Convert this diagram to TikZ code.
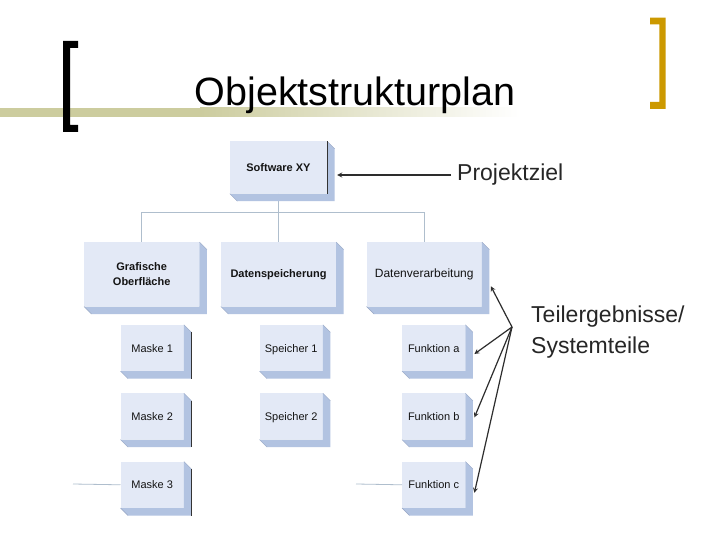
\documentclass[tikz,border=0pt]{standalone}
\usepackage{fontspec}
\setmainfont{Liberation Sans}
\usepackage{xcolor}
\usetikzlibrary{positioning}
\definecolor{boxfront}{RGB}{227,233,246}
\definecolor{boxside}{RGB}{178,195,225}
\definecolor{boxbevel}{RGB}{150,165,195}
\definecolor{boxtext}{RGB}{20,20,20}
\definecolor{treeline}{RGB}{175,190,205}
\definecolor{arrowc}{RGB}{45,45,45}
\definecolor{barc}{RGB}{204,204,158}
\definecolor{gold}{RGB}{204,153,0}

\begin{document}
\begin{tikzpicture}[
  x=1pt, y=-1pt,
  node distance=22pt,
  wbs/.style={
    rectangle, fill=boxfront, inner sep=0pt,
    align=center, text=boxtext,
    font=\fontsize{11}{13.5}\selectfont
  },
  topbox/.style={wbs, minimum width=97pt, minimum height=52pt,
    font=\bfseries\fontsize{11}{13.5}\selectfont},
  subbox/.style={wbs, minimum width=115pt, minimum height=64pt,
    font=\bfseries\fontsize{11}{15.5}\selectfont},
  leaf/.style={wbs, minimum width=63pt, minimum height=46pt,
    text height=8pt, text depth=0pt},
  side/.style={fill=boxside},
  bevel/.style={line width=0.4pt, color=boxbevel},
  rim/.style={line width=0.8pt, color=black!80},
  tree/.style={line width=0.8pt, color=treeline},
  arr/.style={->,>=stealth,line width=1.2pt,color=arrowc},
  note/.style={font=\fontsize{23}{31}\selectfont, text=black!85, inner sep=0pt}
]
\fill[white] (0,0) rectangle (720,540);
\useasboundingbox (0,0) rectangle (720,540);

% title bar and brackets
\fill[barc] (0,108) rectangle (200,117);
\shade[left color=barc, right color=white] (200,108) rectangle (520,117);
\node[font=\fontsize{39.5}{47}\selectfont, anchor=base] (title) at (355,106) {Objektstrukturplan};
\fill[black] (63,41) -- (78,41) -- (78,48) -- (70,48) -- (70,125) -- (78,125)
  -- (78,132) -- (63,132) -- cycle;
\fill[gold] (650,17.7) -- (665.7,17.7) -- (665.7,109) -- (650,109) -- (650,102)
  -- (659.3,102) -- (659.3,24.3) -- (650,24.3) -- cycle;

% boxes
\node[topbox] (sw) at (278.5,167.5) {Software XY};

\node[subbox] (gui) at (141.7,274.3) {Grafische\\Oberfläche};
\node[subbox] (ds) at (278.5,274.3) {Datenspeicherung};
\node[subbox,font=\fontsize{12}{14}\selectfont] (dv) at (424.2,274.3) {Datenverarbeitung};

\node[leaf] (m1) at (152.2,348) {Maske 1};
\node[leaf,below=of m1] (m2) {Maske 2};
\node[leaf,below=of m2] (m3) {Maske 3};

\node[leaf] (s1) at (291.2,348) {Speicher 1};
\node[leaf,below=of s1] (s2) {Speicher 2};

\node[leaf] (fa) at (433.7,348) {Funktion a};
\node[leaf,below=of fa] (fb) {Funktion b};
\node[leaf,below=of fb] (fc) {Funktion c};

% tree lines
\coordinate (bus) at (278.5,212);
\draw[tree] (sw.south) -- (bus);
\draw[tree] (bus) -| (gui.north);
\draw[tree] (bus) -| (ds.north);
\draw[tree] (bus) -| (dv.north);
\coordinate (m3in) at (73,484);
\coordinate (fcin) at (356,484);
\draw[tree] (m3in) -- (m3.west);
\draw[tree] (fcin) -- (fc.west);

% 3d sides
\foreach \b in {sw,gui,ds,dv,m1,m2,m3,s1,s2,fa,fb,fc}{
  \fill[side] (\b.north east) -- ++(7.5,7.5) -- ([shift={(7.5,7.5)}]\b.south east)
    -- ([shift={(7.5,7.5)}]\b.south west) -- (\b.south west) -- (\b.south east) -- cycle;
  \draw[bevel] (\b.north east) -- ++(7.5,7.5);
  \draw[bevel] (\b.south west) -- ++(7.5,7.5);
}
\draw[rim] (sw.north east) -- (sw.south east);
\foreach \b in {m1,m2,m3}
  \draw[rim] ([shift={(7.5,7.5)}]\b.north east) -- ([shift={(7.5,7.5)}]\b.south east);

% labels and arrows
\node[note,anchor=west,inner xsep=6pt] (pz) at (451,175) {Projektziel};
\draw[arr] (pz.west) -- ([xshift=10pt]sw.east |- pz.west);

\node[note,anchor=north west,align=left] (tg) at (531,306) {Teilergebnisse/\\Systemteile};
\coordinate (fork) at (512,327);
\draw[arr] (fork) -- ([shift={(9,12)}]dv.east);
\draw[arr] (fork) -- ([shift={(9,6)}]fa.east);
\draw[arr] (fork) -- ([shift={(9,1)}]fb.east);
\draw[arr] (fork) -- ([shift={(9,8)}]fc.east);
\end{tikzpicture}
\end{document}
